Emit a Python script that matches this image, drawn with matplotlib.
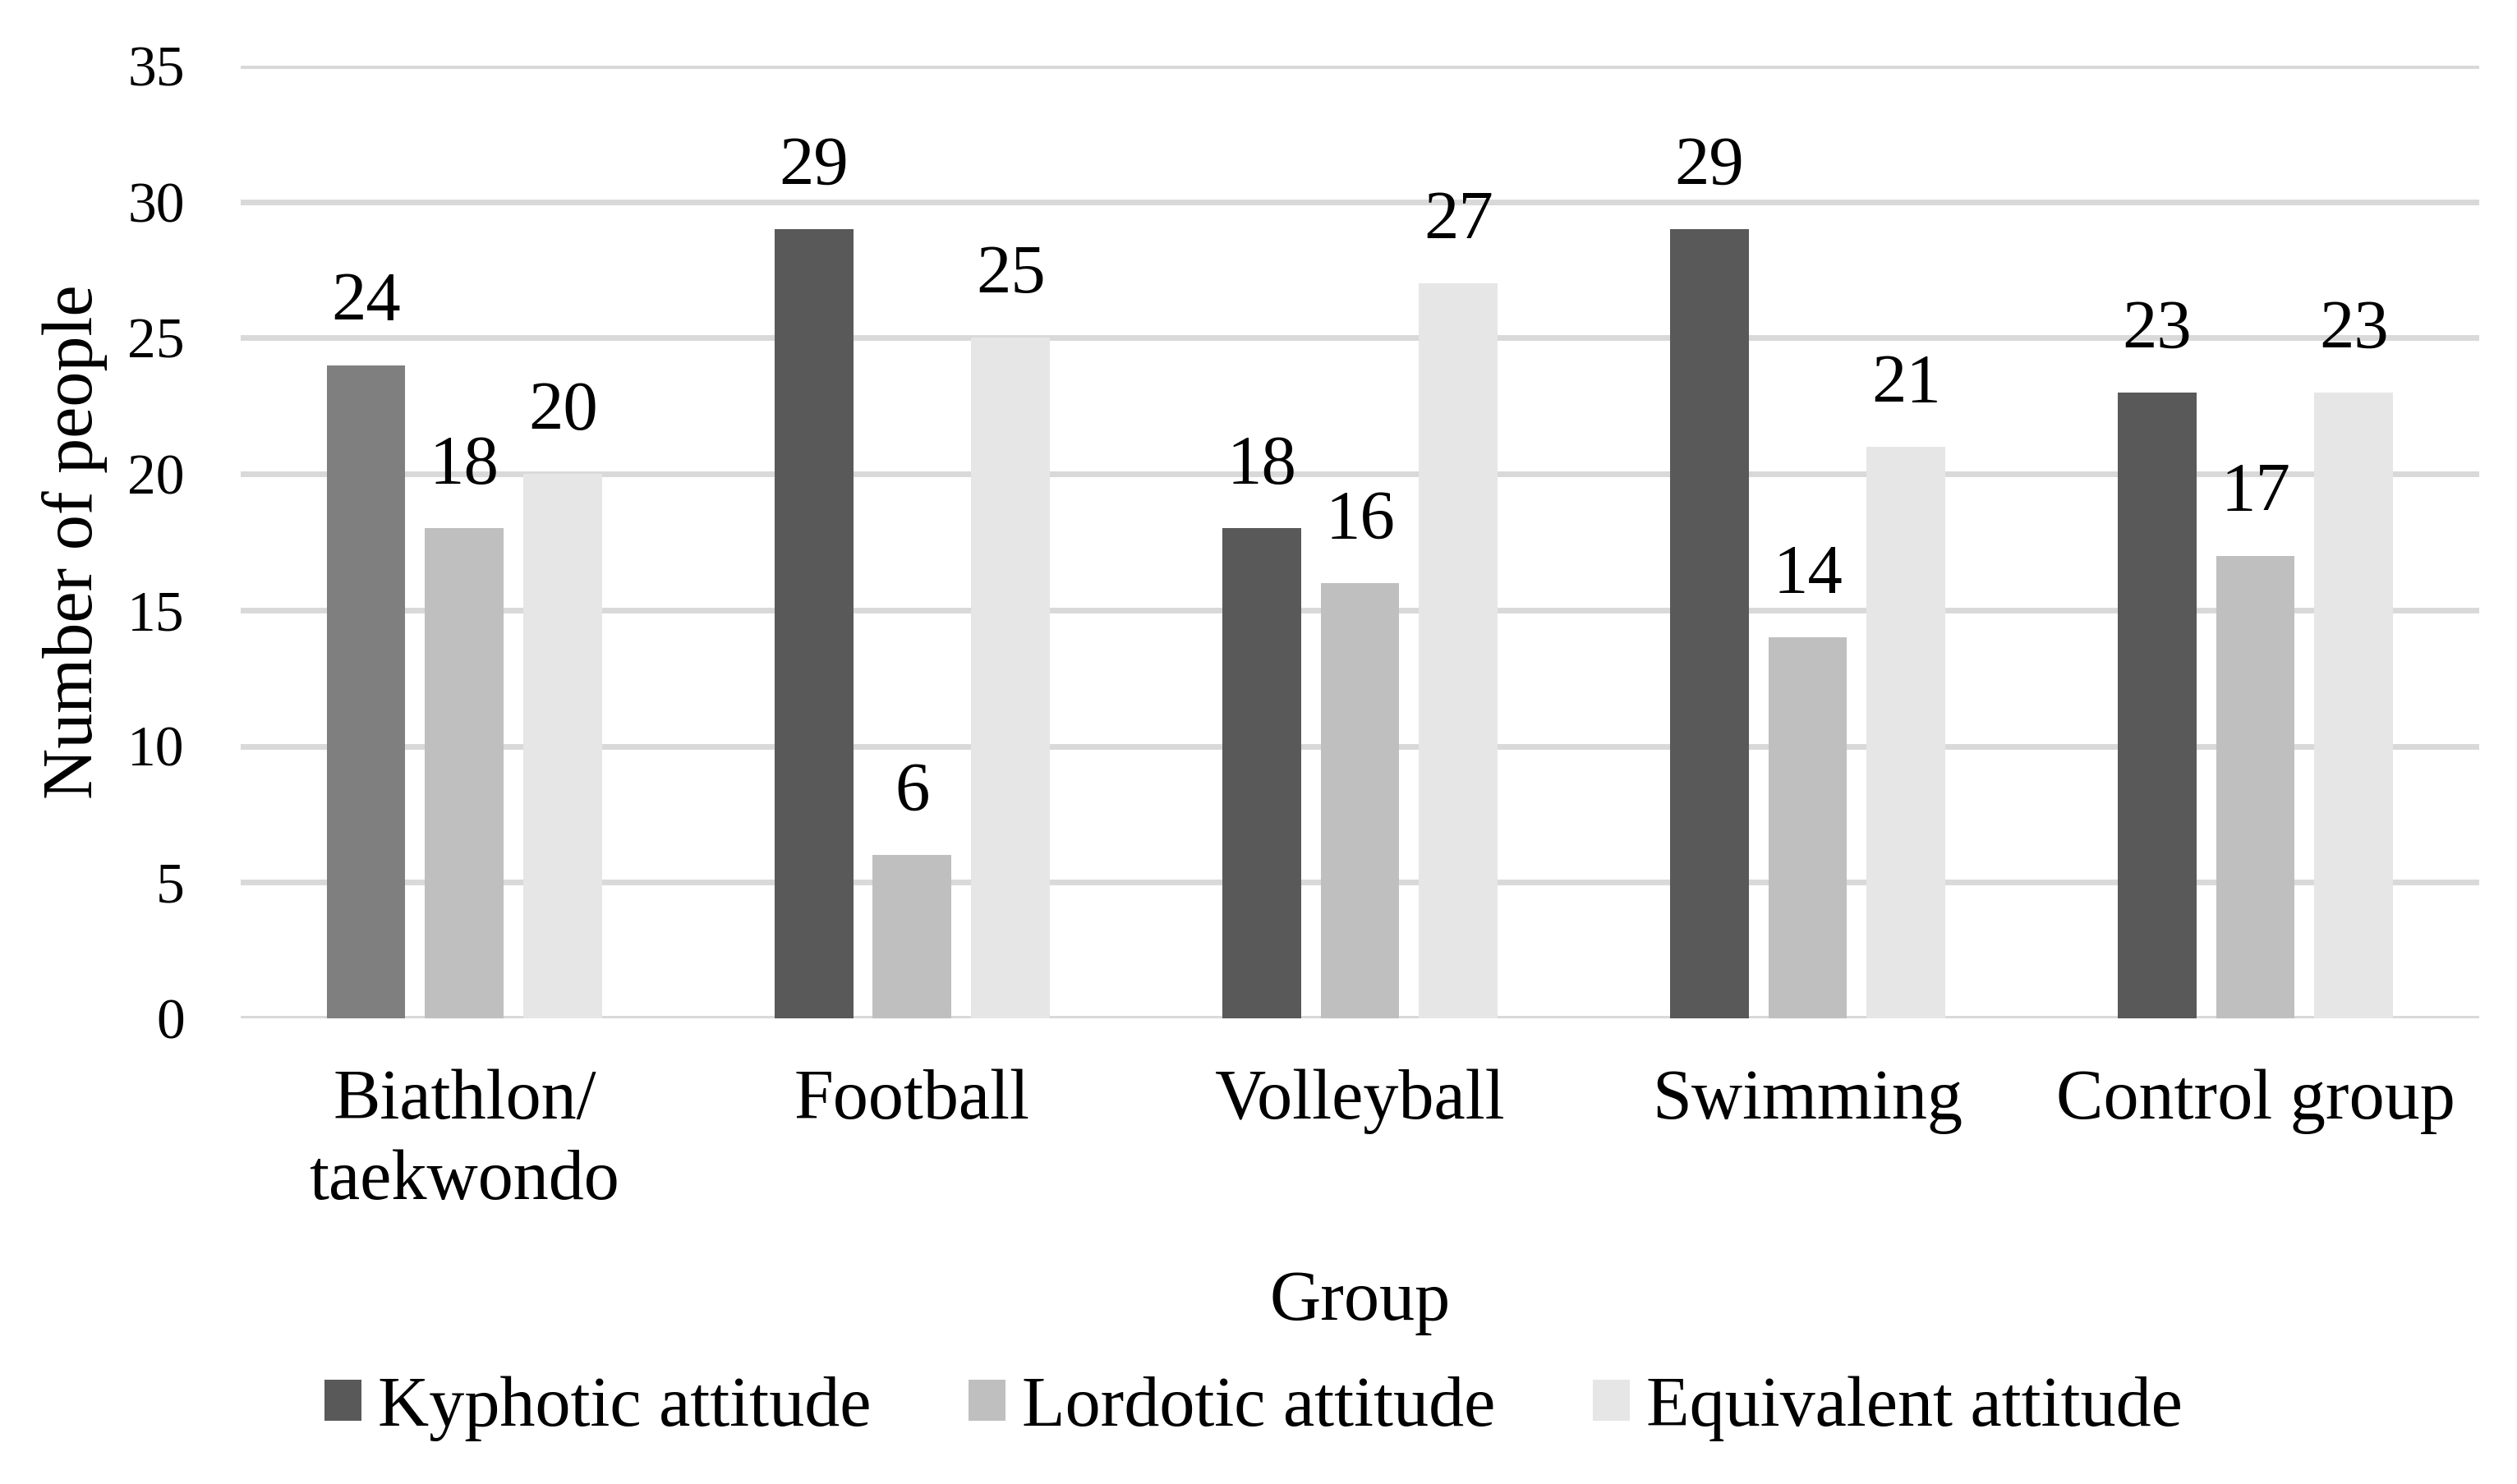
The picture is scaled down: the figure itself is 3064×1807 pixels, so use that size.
import matplotlib
matplotlib.use("Agg")
import matplotlib.pyplot as plt
from matplotlib.patches import Patch
import numpy as np

#chart values
groups = ["Biathlon/\ntaekwondo", "Football", "Volleyball", "Swimming", "Control group"]
kyphotic = [24, 29, 18, 29, 23]
lordotic = [18, 6, 16, 14, 17]
equivalent = [20, 25, 27, 21, 23]
series_names = ["Kyphotic attitude", "Lordotic attitude", "Equivalent attitude"]
y_ticks = [0, 5, 10, 15, 20, 25, 30, 35]

plt.rcParams['font.family'] = ['Liberation Serif', 'DejaVu Serif']

dark = "#595959"
mid = "#BFBFBF"
light = "#E6E6E6"
#first kyphotic bar is drawn lighter in the original
kyph_colors = ["#7F7F7F", dark, dark, dark, dark]

fig = plt.figure(figsize=(30.64, 18.07), dpi=100)
ax = fig.add_axes([0.0956, 0.3138, 0.985 - 0.0956, 0.9557 - 0.3138])

x = np.arange(len(groups))
width = 0.176
step = 0.220

series = [kyphotic, lordotic, equivalent]
colors = [kyph_colors, mid, light]
for k, (vals, col) in enumerate(zip(series, colors)):
    pos = x + (k - 1) * step
    ax.bar(pos, vals, width=width, color=col, zorder=2)
    #value labels above each bar
    for px, v in zip(pos, vals):
        ax.annotate(str(v), (px, v), xytext=(0, 39), textcoords='offset points',
                    ha='center', va='baseline', fontsize=61, color='black')

ax.set_xlim(-0.5, len(groups) - 0.5)
ax.set_ylim(0, 35)
ax.set_yticks(y_ticks)
ax.set_xticks(x)
ax.set_xticklabels(groups, fontsize=62, linespacing=1.32)
ax.tick_params(axis='y', labelsize=50, length=0, pad=49)
ax.tick_params(axis='x', length=0, pad=44)

for s in ax.spines.values():
    s.set_visible(False)
ax.set_axisbelow(True)
ax.yaxis.grid(True, color="#D9D9D9", linewidth=5)
ax.xaxis.grid(False)

ax.set_xlabel("Group", fontsize=62, va='baseline')
ax.xaxis.set_label_coords(0.5, -0.3164)
ax.set_ylabel("Number of people", fontsize=62, va='baseline')
ax.yaxis.set_label_coords(-0.0664, 0.5)

handles = [Patch(facecolor=c, edgecolor='none') for c in [dark, mid, light]]
fig.legend(handles, series_names, loc='center', bbox_to_anchor=(0.498, 0.051),
           ncol=3, frameon=False, fontsize=62, handlelength=0.52, handleheight=0.51,
           handletextpad=0.23, columnspacing=1.38, borderpad=0, borderaxespad=0)

fig.savefig("out.png", dpi=100, facecolor='white')
